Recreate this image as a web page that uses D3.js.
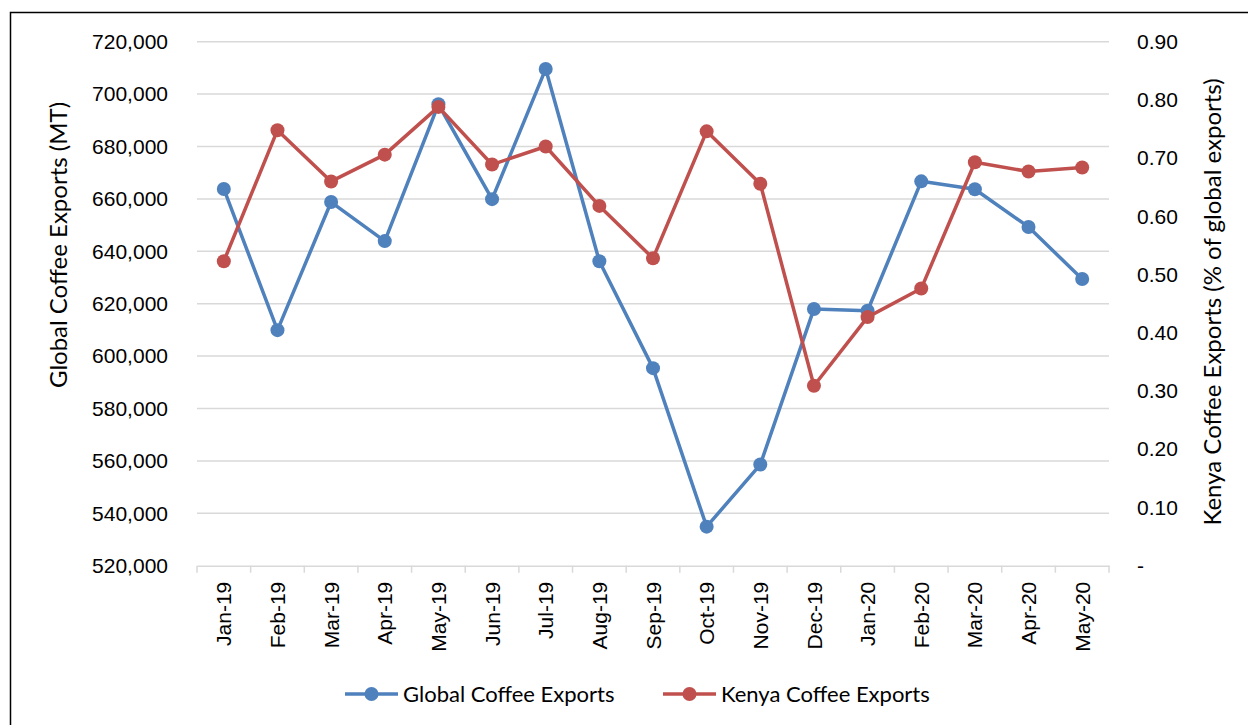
<!DOCTYPE html>
<html>
<head>
<meta charset="utf-8">
<script src="https://cdn.jsdelivr.net/npm/d3@7"></script>
<style>
  body { margin: 0; background: #fff; }
  svg { display: block; font-family: Lato, "Open Sans", sans-serif; }
</style>
</head>
<body>
<svg id="chart" width="1248" height="725"></svg>
<script>
const categories = ["Jan-19","Feb-19","Mar-19","Apr-19","May-19","Jun-19","Jul-19","Aug-19","Sep-19","Oct-19","Nov-19","Dec-19","Jan-20","Feb-20","Mar-20","Apr-20","May-20"];
const globalExports = [663800, 609900, 658800, 643900, 696100, 659900, 709600, 636200, 595400, 534900, 558600, 618000, 617300, 666700, 663700, 649300, 629400];
const kenyaExports = [0.523, 0.748, 0.660, 0.706, 0.788, 0.689, 0.720, 0.618, 0.528, 0.746, 0.656, 0.309, 0.427, 0.476, 0.693, 0.677, 0.684];
const leftTicks = [520000, 540000, 560000, 580000, 600000, 620000, 640000, 660000, 680000, 700000, 720000];
const rightTicks = [0, 0.1, 0.2, 0.3, 0.4, 0.5, 0.6, 0.7, 0.8, 0.9];
const seriesNames = ["Global Coffee Exports", "Kenya Coffee Exports"];
const colors = ["#4f81bd", "#c0504d"];

const svg = d3.select("#chart");
const plot = { left: 197, right: 1109, top: 41.7, bottom: 565.7 };
const fontSize = 21;

// outer border (cropped)
svg.append("rect").attr("x", 10.5).attr("y", 12.5).attr("width", 1260).attr("height", 740)
  .attr("fill", "none").attr("stroke", "#000").attr("stroke-width", 1.5);

const x = d3.scaleBand().domain(categories).range([plot.left, plot.right]).paddingInner(0).paddingOuter(0);
const yL = d3.scaleLinear().domain([520000, 720000]).range([plot.bottom, plot.top]);
const yR = d3.scaleLinear().domain([0, 0.9]).range([plot.bottom, plot.top]);

// gridlines
svg.append("g").selectAll("line").data(leftTicks.slice(1)).join("line")
  .attr("x1", plot.left).attr("x2", plot.right)
  .attr("y1", d => yL(d)).attr("y2", d => yL(d))
  .attr("stroke", "#d9d9d9").attr("stroke-width", 1.5);

// bottom axis
const xAxis = svg.append("g").attr("transform", `translate(0,${plot.bottom})`)
  .call(d3.axisBottom(x).tickSize(0).tickFormat(d => d));
xAxis.select(".domain").attr("stroke", "#d9d9d9").attr("stroke-width", 1.5);
xAxis.selectAll(".tick text")
  .attr("font-size", fontSize).attr("fill", "#000")
  .attr("transform", "rotate(-90)")
  .attr("text-anchor", "end")
  .attr("x", -16).attr("y", 0).attr("dy", "0.36em");
// band boundary tick marks
const boundaries = categories.map(c => x(c)).concat([plot.right]);
svg.append("g").selectAll("line").data(boundaries).join("line")
  .attr("x1", d => d).attr("x2", d => d)
  .attr("y1", plot.bottom).attr("y2", plot.bottom + 7)
  .attr("stroke", "#d9d9d9").attr("stroke-width", 1.5);

// left axis
const lAxis = svg.append("g").attr("transform", `translate(${plot.left},0)`)
  .call(d3.axisLeft(yL).tickValues(leftTicks).tickSize(0).tickPadding(29).tickFormat(d3.format(",")));
lAxis.select(".domain").remove();
lAxis.selectAll(".tick text").attr("font-size", fontSize).attr("fill", "#000");

// right axis
const rAxis = svg.append("g").attr("transform", `translate(${plot.right},0)`)
  .call(d3.axisRight(yR).tickValues(rightTicks).tickSize(0).tickPadding(28)
    .tickFormat(d => d === 0 ? "-" : d.toFixed(2)));
rAxis.select(".domain").remove();
rAxis.selectAll(".tick text").attr("font-size", fontSize).attr("fill", "#000");

// axis titles
svg.append("text").attr("transform", "translate(67,245) rotate(-90)")
  .attr("text-anchor", "middle").attr("font-size", 24).attr("fill", "#000")
  .text("Global Coffee Exports (MT)");
svg.append("text").attr("transform", "translate(1221,302) rotate(-90)")
  .attr("text-anchor", "middle").attr("font-size", 24).attr("fill", "#000")
  .text("Kenya Coffee Exports (% of global exports)");

// series
const cx = d => x(d) + x.bandwidth() / 2;
const seriesData = [
  globalExports.map((v, i) => [cx(categories[i]), yL(v)]),
  kenyaExports.map((v, i) => [cx(categories[i]), yR(v)])
];
seriesData.forEach((pts, s) => {
  const g = svg.append("g");
  g.append("path").attr("d", d3.line()(pts)).attr("fill", "none")
    .attr("stroke", colors[s]).attr("stroke-width", 3.5).attr("stroke-linejoin", "round");
  g.selectAll("circle").data(pts).join("circle")
    .attr("cx", d => d[0]).attr("cy", d => d[1]).attr("r", 7).attr("fill", colors[s]);
});

// legend
const legendItems = [{ x1: 345, x2: 398, tx: 403 }, { x1: 663, x2: 716, tx: 721 }];
const ly = 694;
legendItems.forEach((it, i) => {
  const g = svg.append("g");
  g.append("line").attr("x1", it.x1).attr("x2", it.x2).attr("y1", ly).attr("y2", ly)
    .attr("stroke", colors[i]).attr("stroke-width", 3.5);
  g.append("circle").attr("cx", (it.x1 + it.x2) / 2).attr("cy", ly).attr("r", 7).attr("fill", colors[i]);
  g.append("text").attr("x", it.tx).attr("y", ly).attr("dy", "0.35em")
    .attr("font-size", 22).attr("fill", "#000").text(seriesNames[i]);
});
</script>
</body>
</html>
